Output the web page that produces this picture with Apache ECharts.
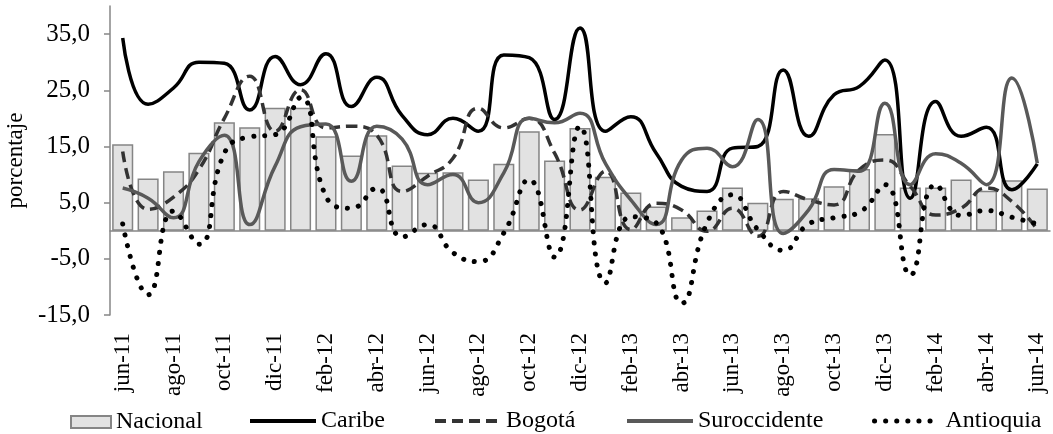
<!DOCTYPE html>
<html>
<head>
<meta charset="utf-8">
<script src="https://cdn.jsdelivr.net/npm/echarts@6/dist/echarts.min.js"></script>
<style>
  html, body { margin: 0; padding: 0; background: #fff; }
  #chart { width: 1053px; height: 434px; }
</style>
</head>
<body>
<div id="chart"></div>
<script>
const months = [
  'jun-11', 'jul-11', 'ago-11', 'sep-11', 'oct-11', 'nov-11', 'dic-11', 'ene-12', 'feb-12', 'mar-12',
  'abr-12', 'may-12', 'jun-12', 'jul-12', 'ago-12', 'sep-12', 'oct-12', 'nov-12', 'dic-12', 'ene-13',
  'feb-13', 'mar-13', 'abr-13', 'may-13', 'jun-13', 'jul-13', 'ago-13', 'sep-13', 'oct-13', 'nov-13',
  'dic-13', 'ene-14', 'feb-14', 'mar-14', 'abr-14', 'may-14', 'jun-14'
]
const nacional = [15.4, 9.3, 10.6, 13.9, 19.3, 18.4, 21.9, 21.9, 16.8, 13.4, 17.0, 11.6, 10.3, 10.4, 9.1, 11.9, 17.7, 12.5, 18.3, 9.6, 6.8, 4.3, 2.4, 3.6, 7.7, 5.0, 5.7, 5.8, 7.9, 11.0, 17.2, 7.7, 7.7, 9.1, 7.1, 9.0, 7.5]
const caribe = [34.3, 22.5, 25.4, 30.0, 29.8, 21.5, 31.0, 26.0, 31.5, 22.1, 27.3, 20.5, 17.1, 20.0, 17.7, 31.3, 30.8, 19.8, 36.1, 17.7, 20.3, 13.8, 7.9, 7.0, 14.7, 15.0, 28.6, 16.8, 24.2, 25.7, 30.4, 5.8, 23.0, 16.8, 18.4, 7.3, 11.9]
const bogota = [14.1, 3.8, 6.0, 10.9, 20.0, 27.5, 17.7, 25.1, 18.3, 18.6, 17.0, 7.0, 9.7, 12.9, 21.8, 18.3, 20.0, 13.8, 3.7, 10.6, 0.2, 4.9, 3.7, -0.1, 4.0, -1.0, 7.0, 5.5, 4.6, 10.9, 12.6, 7.9, 2.8, 4.0, 7.6, 5.2, 0.2]
const suroccidente = [7.6, 5.8, 2.3, 12.3, 17.0, 1.1, 11.5, 18.5, 19.0, 8.8, 18.6, 16.3, 8.2, 10.0, 5.0, 10.3, 20.0, 19.2, 20.9, 12.0, 5.5, 1.1, 12.6, 14.7, 11.4, 19.8, -0.5, 3.7, 10.9, 10.6, 22.7, 8.2, 13.7, 12.0, 8.2, 27.2, 12.0]
const antioquia = [1.2, -11.4, 3.5, -2.4, 13.8, 16.7, 17.1, 23.7, 6.1, 4.0, 7.6, -1.1, 1.1, -3.9, -5.5, -0.4, 9.1, -4.7, 18.6, -9.3, 2.5, 1.4, -12.9, 1.4, 6.4, 0.2, -3.5, 1.2, 2.3, 3.3, 8.2, -7.9, 8.2, 2.7, 3.6, 2.4, 1.2]
const yTicks = [-15, -5, 5, 15, 25, 35]

const font = 'Liberation Serif'
const axisGray = '#868686'

const chart = echarts.init(document.getElementById('chart'))

function legendAt(name, left, w, h) {
  const isBar = name === 'Nacional'
  return {
    data: isBar ? [{name: name, icon: 'rect'}] : [name],
    left: left,
    top: 416 - h / 2,
    itemWidth: w,
    itemHeight: h,
    padding: 0,
    itemStyle: isBar ? {} : {opacity: 0},
    lineStyle: isBar ? {} : {width: name === 'Antioquia' ? 5 : 4},
    textStyle: {fontFamily: font, fontSize: 24, color: '#000'}
  }
}

chart.setOption({
  animation: false,
  grid: {left: 110, right: 3, top: 6, bottom: 119, containLabel: false, outerBoundsMode: 'none'},
  legend: [
    legendAt('Nacional', 70, 40, 12),
    legendAt('Caribe', 248, 66, 14),
    legendAt('Bogotá', 433, 66, 14),
    legendAt('Suroccidente', 625, 66, 14),
    legendAt('Antioquia', 872, 66, 14)
  ],
  xAxis: [
    {
      type: 'category',
      data: months,
      boundaryGap: true,
      axisLine: {onZero: true, lineStyle: {color: axisGray, width: 1.5}},
      axisTick: {interval: 1, length: 6, lineStyle: {color: axisGray, width: 1.5}},
      axisLabel: {show: false}
    },
    {
      type: 'category',
      data: months,
      position: 'bottom',
      boundaryGap: true,
      axisLine: {show: false, onZero: false},
      axisTick: {show: false},
      axisLabel: {interval: 1, rotate: 90, margin: 18, fontFamily: font, fontSize: 23, color: '#000'}
    }
  ],
  yAxis: {
    type: 'value',
    min: -15,
    max: 40,
    name: 'porcentaje',
    nameLocation: 'middle',
    nameGap: 78,
    nameTextStyle: {fontFamily: font, fontSize: 23, color: '#000'},
    axisLine: {show: true, lineStyle: {color: axisGray, width: 1.5}},
    axisTick: {show: true, length: 6, customValues: yTicks, lineStyle: {color: axisGray, width: 1.5}},
    splitLine: {show: false},
    axisLabel: {
      customValues: yTicks,
      margin: 20,
      fontFamily: font,
      fontSize: 25,
      color: '#000',
      formatter: v => v.toFixed(1).replace('.', ',')
    }
  },
  series: [
    {
      name: 'Nacional',
      type: 'bar',
      data: nacional,
      barCategoryGap: '17%',
      itemStyle: {color: '#e2e2e2', borderColor: '#858585', borderWidth: 1.5},
      z: 1
    },
    {
      name: 'Caribe',
      type: 'line',
      data: caribe,
      smooth: true,
      symbol: 'none',
      lineStyle: {color: '#000', width: 3.5},
      itemStyle: {color: '#000'},
      z: 3
    },
    {
      name: 'Bogotá',
      type: 'line',
      data: bogota,
      smooth: true,
      symbol: 'none',
      lineStyle: {color: '#333', width: 3.5, type: [11, 6]},
      itemStyle: {color: '#333'},
      z: 3
    },
    {
      name: 'Suroccidente',
      type: 'line',
      data: suroccidente,
      smooth: true,
      symbol: 'none',
      lineStyle: {color: '#595959', width: 3.5},
      itemStyle: {color: '#595959'},
      z: 3
    },
    {
      name: 'Antioquia',
      type: 'line',
      data: antioquia,
      smooth: true,
      symbol: 'none',
      lineStyle: {color: '#000', width: 5, type: [0.1, 11], cap: 'round'},
      itemStyle: {color: '#000'},
      z: 4
    }
  ]
})
</script>
</body>
</html>
